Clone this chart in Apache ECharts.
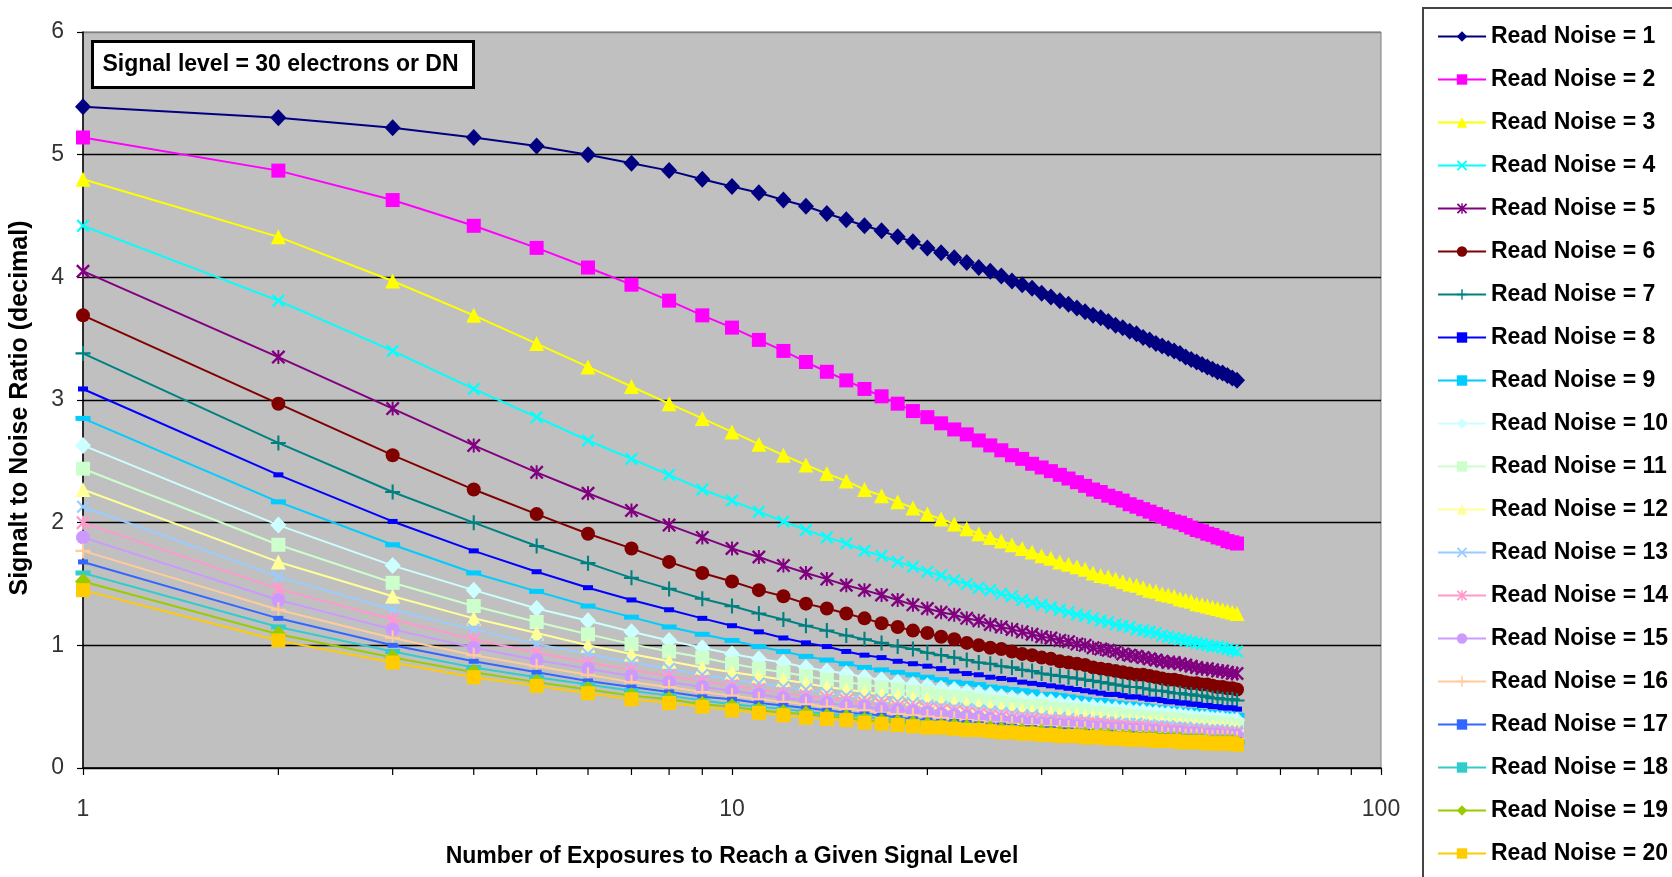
<!DOCTYPE html>
<html>
<head>
<meta charset="utf-8">
<title>Signal to Noise Ratio vs Number of Exposures</title>
<script src="https://cdn.jsdelivr.net/npm/echarts@6.0.0/dist/echarts.min.js"></script>
<style>
  html, body { margin: 0; padding: 0; background: #ffffff; }
  #chart { width: 1672px; height: 877px; }
</style>
</head>
<body>
<div id="chart"></div>
<script>
// Number of exposures the 30-electron signal is split across
const exposures = [1,2,3,4,5,6,7,8,9,10,11,12,13,14,15,16,17,18,19,20,
  21,22,23,24,25,26,27,28,29,30,31,32,33,34,35,36,37,38,39,40,
  41,42,43,44,45,46,47,48,49,50,51,52,53,54,55,56,57,58,59,60];

const readNoise = [1,2,3,4,5,6,7,8,9,10,11,12,13,14,15,16,17,18,19,20];

// Signal to noise ratio for each read-noise level, one value per exposure count
const snrRN1 = [5.39,5.30,5.22,5.14,5.07,5.00,4.93,4.87,4.80,4.74,4.69,4.63,4.58,4.52,4.47,4.42,4.38,4.33,4.29,4.24,
  4.20,4.16,4.12,4.08,4.05,4.01,3.97,3.94,3.91,3.87,3.84,3.81,3.78,3.75,3.72,3.69,3.67,3.64,3.61,3.59,
  3.56,3.54,3.51,3.49,3.46,3.44,3.42,3.40,3.38,3.35,3.33,3.31,3.29,3.27,3.25,3.23,3.22,3.20,3.18,3.16];
const snrRN2 = [5.14,4.87,4.63,4.42,4.24,4.08,3.94,3.81,3.69,3.59,3.49,3.40,3.31,3.23,3.16,3.09,3.03,2.97,2.91,2.86,
  2.81,2.76,2.72,2.67,2.63,2.59,2.55,2.52,2.48,2.45,2.42,2.39,2.36,2.33,2.30,2.27,2.25,2.22,2.20,2.18,
  2.15,2.13,2.11,2.09,2.07,2.05,2.03,2.01,2.00,1.98,1.96,1.94,1.93,1.91,1.90,1.88,1.87,1.85,1.84,1.83];
const snrRN3 = [4.80,4.33,3.97,3.69,3.46,3.27,3.11,2.97,2.85,2.74,2.64,2.55,2.47,2.40,2.34,2.27,2.22,2.17,2.12,2.07,
  2.03,1.99,1.95,1.91,1.88,1.85,1.82,1.79,1.76,1.73,1.71,1.68,1.66,1.64,1.62,1.59,1.57,1.56,1.54,1.52,
  1.50,1.49,1.47,1.45,1.44,1.42,1.41,1.40,1.38,1.37,1.36,1.34,1.33,1.32,1.31,1.30,1.29,1.28,1.27,1.26];
const snrRN4 = [4.42,3.81,3.40,3.09,2.86,2.67,2.52,2.39,2.27,2.18,2.09,2.01,1.94,1.88,1.83,1.77,1.73,1.68,1.64,1.60,
  1.57,1.53,1.50,1.47,1.45,1.42,1.40,1.37,1.35,1.33,1.31,1.29,1.27,1.25,1.24,1.22,1.20,1.19,1.17,1.16,
  1.15,1.13,1.12,1.11,1.10,1.08,1.07,1.06,1.05,1.04,1.03,1.02,1.01,1.00,0.99,0.99,0.98,0.97,0.96,0.95];
const snrRN5 = [4.05,3.35,2.93,2.63,2.41,2.24,2.10,1.98,1.88,1.79,1.72,1.65,1.59,1.54,1.49,1.45,1.41,1.37,1.33,1.30,
  1.27,1.25,1.22,1.20,1.17,1.15,1.13,1.11,1.09,1.07,1.06,1.04,1.03,1.01,1.00,0.98,0.97,0.96,0.95,0.93,
  0.92,0.91,0.90,0.89,0.88,0.87,0.86,0.86,0.85,0.84,0.83,0.82,0.81,0.81,0.80,0.79,0.79,0.78,0.77,0.77];
const snrRN6 = [3.69,2.97,2.55,2.27,2.07,1.91,1.79,1.68,1.59,1.52,1.45,1.40,1.34,1.30,1.26,1.22,1.18,1.15,1.12,1.10,
  1.07,1.05,1.02,1.00,0.98,0.97,0.95,0.93,0.92,0.90,0.89,0.87,0.86,0.85,0.84,0.82,0.81,0.80,0.79,0.78,
  0.77,0.76,0.76,0.75,0.74,0.73,0.72,0.72,0.71,0.70,0.69,0.69,0.68,0.68,0.67,0.66,0.66,0.65,0.65,0.64];
const snrRN7 = [3.38,2.65,2.25,2.00,1.81,1.67,1.55,1.46,1.38,1.32,1.26,1.21,1.16,1.12,1.08,1.05,1.02,0.99,0.97,0.94,
  0.92,0.90,0.88,0.86,0.85,0.83,0.82,0.80,0.79,0.77,0.76,0.75,0.74,0.73,0.72,0.71,0.70,0.69,0.68,0.67,
  0.66,0.66,0.65,0.64,0.63,0.63,0.62,0.61,0.61,0.60,0.60,0.59,0.59,0.58,0.57,0.57,0.56,0.56,0.56,0.55];
const snrRN8 = [3.09,2.39,2.01,1.77,1.60,1.47,1.37,1.29,1.22,1.16,1.11,1.06,1.02,0.99,0.95,0.92,0.90,0.87,0.85,0.83,
  0.81,0.79,0.77,0.76,0.74,0.73,0.72,0.70,0.69,0.68,0.67,0.66,0.65,0.64,0.63,0.62,0.61,0.60,0.60,0.59,
  0.58,0.58,0.57,0.56,0.56,0.55,0.54,0.54,0.53,0.53,0.52,0.52,0.51,0.51,0.50,0.50,0.49,0.49,0.49,0.48];
const snrRN9 = [2.85,2.17,1.82,1.59,1.44,1.32,1.23,1.15,1.09,1.04,0.99,0.95,0.91,0.88,0.85,0.82,0.80,0.78,0.76,0.74,
  0.72,0.70,0.69,0.68,0.66,0.65,0.64,0.63,0.62,0.60,0.60,0.59,0.58,0.57,0.56,0.55,0.55,0.54,0.53,0.52,
  0.52,0.51,0.51,0.50,0.49,0.49,0.48,0.48,0.47,0.47,0.47,0.46,0.46,0.45,0.45,0.44,0.44,0.44,0.43,0.43];
const snrRN10 = [2.63,1.98,1.65,1.45,1.30,1.20,1.11,1.04,0.98,0.93,0.89,0.86,0.82,0.79,0.77,0.74,0.72,0.70,0.68,0.67,
  0.65,0.64,0.62,0.61,0.60,0.58,0.57,0.56,0.55,0.55,0.54,0.53,0.52,0.51,0.50,0.50,0.49,0.48,0.48,0.47,
  0.47,0.46,0.46,0.45,0.45,0.44,0.44,0.43,0.43,0.42,0.42,0.41,0.41,0.41,0.40,0.40,0.40,0.39,0.39,0.39];
const snrRN11 = [2.44,1.82,1.51,1.32,1.19,1.09,1.01,0.95,0.90,0.85,0.81,0.78,0.75,0.72,0.70,0.68,0.66,0.64,0.62,0.61,
  0.59,0.58,0.57,0.55,0.54,0.53,0.52,0.51,0.50,0.50,0.49,0.48,0.47,0.47,0.46,0.45,0.45,0.44,0.44,0.43,
  0.42,0.42,0.41,0.41,0.41,0.40,0.40,0.39,0.39,0.38,0.38,0.38,0.37,0.37,0.37,0.36,0.36,0.36,0.35,0.35];
const snrRN12 = [2.27,1.68,1.40,1.22,1.10,1.00,0.93,0.87,0.82,0.78,0.75,0.72,0.69,0.66,0.64,0.62,0.60,0.59,0.57,0.56,
  0.54,0.53,0.52,0.51,0.50,0.49,0.48,0.47,0.46,0.45,0.45,0.44,0.43,0.43,0.42,0.42,0.41,0.40,0.40,0.39,
  0.39,0.38,0.38,0.38,0.37,0.37,0.36,0.36,0.36,0.35,0.35,0.35,0.34,0.34,0.34,0.33,0.33,0.33,0.32,0.32];
const snrRN13 = [2.13,1.56,1.29,1.13,1.01,0.93,0.86,0.81,0.76,0.72,0.69,0.66,0.64,0.61,0.59,0.57,0.56,0.54,0.53,0.51,
  0.50,0.49,0.48,0.47,0.46,0.45,0.44,0.43,0.43,0.42,0.41,0.41,0.40,0.39,0.39,0.38,0.38,0.37,0.37,0.36,
  0.36,0.36,0.35,0.35,0.34,0.34,0.34,0.33,0.33,0.33,0.32,0.32,0.32,0.31,0.31,0.31,0.31,0.30,0.30,0.30];
const snrRN14 = [2.00,1.46,1.21,1.05,0.94,0.86,0.80,0.75,0.71,0.67,0.64,0.61,0.59,0.57,0.55,0.53,0.52,0.50,0.49,0.48,
  0.47,0.46,0.45,0.44,0.43,0.42,0.41,0.40,0.40,0.39,0.38,0.38,0.37,0.37,0.36,0.36,0.35,0.35,0.34,0.34,
  0.33,0.33,0.33,0.32,0.32,0.32,0.31,0.31,0.31,0.30,0.30,0.30,0.29,0.29,0.29,0.29,0.28,0.28,0.28,0.28];
const snrRN15 = [1.88,1.37,1.13,0.98,0.88,0.81,0.75,0.70,0.66,0.63,0.60,0.57,0.55,0.53,0.51,0.50,0.48,0.47,0.46,0.45,
  0.44,0.43,0.42,0.41,0.40,0.39,0.38,0.38,0.37,0.36,0.36,0.35,0.35,0.34,0.34,0.33,0.33,0.32,0.32,0.32,
  0.31,0.31,0.30,0.30,0.30,0.29,0.29,0.29,0.29,0.28,0.28,0.28,0.27,0.27,0.27,0.27,0.26,0.26,0.26,0.26];
const snrRN16 = [1.77,1.29,1.06,0.92,0.83,0.76,0.70,0.66,0.62,0.59,0.56,0.54,0.52,0.50,0.48,0.47,0.45,0.44,0.43,0.42,
  0.41,0.40,0.39,0.38,0.37,0.37,0.36,0.35,0.35,0.34,0.34,0.33,0.33,0.32,0.32,0.31,0.31,0.30,0.30,0.30,
  0.29,0.29,0.29,0.28,0.28,0.28,0.27,0.27,0.27,0.26,0.26,0.26,0.26,0.25,0.25,0.25,0.25,0.25,0.24,0.24];
const snrRN17 = [1.68,1.22,1.00,0.87,0.78,0.71,0.66,0.62,0.58,0.56,0.53,0.51,0.49,0.47,0.45,0.44,0.43,0.41,0.40,0.39,
  0.38,0.38,0.37,0.36,0.35,0.35,0.34,0.33,0.33,0.32,0.32,0.31,0.31,0.30,0.30,0.29,0.29,0.29,0.28,0.28,
  0.28,0.27,0.27,0.27,0.26,0.26,0.26,0.25,0.25,0.25,0.25,0.24,0.24,0.24,0.24,0.24,0.23,0.23,0.23,0.23];
const snrRN18 = [1.59,1.15,0.95,0.82,0.74,0.68,0.63,0.59,0.55,0.52,0.50,0.48,0.46,0.44,0.43,0.42,0.40,0.39,0.38,0.37,
  0.36,0.35,0.35,0.34,0.33,0.33,0.32,0.31,0.31,0.30,0.30,0.29,0.29,0.29,0.28,0.28,0.27,0.27,0.27,0.26,
  0.26,0.26,0.25,0.25,0.25,0.25,0.24,0.24,0.24,0.24,0.23,0.23,0.23,0.23,0.22,0.22,0.22,0.22,0.22,0.21];
const snrRN19 = [1.52,1.09,0.90,0.78,0.70,0.64,0.59,0.56,0.52,0.50,0.47,0.45,0.44,0.42,0.41,0.39,0.38,0.37,0.36,0.35,
  0.34,0.34,0.33,0.32,0.32,0.31,0.30,0.30,0.29,0.29,0.28,0.28,0.27,0.27,0.27,0.26,0.26,0.26,0.25,0.25,
  0.25,0.24,0.24,0.24,0.24,0.23,0.23,0.23,0.23,0.22,0.22,0.22,0.22,0.21,0.21,0.21,0.21,0.21,0.21,0.20];
const snrRN20 = [1.45,1.04,0.86,0.74,0.67,0.61,0.56,0.53,0.50,0.47,0.45,0.43,0.41,0.40,0.39,0.37,0.36,0.35,0.34,0.33,
  0.33,0.32,0.31,0.31,0.30,0.29,0.29,0.28,0.28,0.27,0.27,0.26,0.26,0.26,0.25,0.25,0.25,0.24,0.24,0.24,
  0.23,0.23,0.23,0.23,0.22,0.22,0.22,0.22,0.21,0.21,0.21,0.21,0.21,0.20,0.20,0.20,0.20,0.20,0.20,0.19];

const snrSeries = [snrRN1, snrRN2, snrRN3, snrRN4, snrRN5, snrRN6, snrRN7, snrRN8, snrRN9, snrRN10,
  snrRN11, snrRN12, snrRN13, snrRN14, snrRN15, snrRN16, snrRN17, snrRN18, snrRN19, snrRN20];

// Axis tick values
const yTicks = [0, 1, 2, 3, 4, 5, 6];
const xMinorTicks = [2, 3, 4, 5, 6, 7, 8, 9, 20, 30, 40, 50, 60, 70, 80, 90];

const annotation = 'Signal level = 30 electrons or DN';

// Classic spreadsheet palette and marker shapes
const palette = ['#000080', '#FF00FF', '#FFFF00', '#00FFFF', '#800080', '#800000', '#008080', '#0000FF',
  '#00CCFF', '#CCFFFF', '#CCFFCC', '#FFFF99', '#99CCFF', '#FF99CC', '#CC99FF', '#FFCC99',
  '#3366FF', '#33CCCC', '#99CC00', '#FFCC00'];

const X_PATH = 'path://M0,1.2L1.2,0L5,3.8L8.8,0L10,1.2L6.2,5L10,8.8L8.8,10L5,6.2L1.2,10L0,8.8L3.8,5Z';
const STAR_PATH = 'path://M0,1.2L1.2,0L5,3.8L8.8,0L10,1.2L6.2,5L10,8.8L8.8,10L5,6.2L1.2,10L0,8.8L3.8,5ZM4.3,0H5.7V10H4.3Z';
const PLUS_PATH = 'path://M4.3,0H5.7V4.3H10V5.7H5.7V10H4.3V5.7H0V4.3H4.3Z';

const markers = [
  { symbol: 'diamond', size: [16, 17] },
  { symbol: 'rect', size: 14 },
  { symbol: 'triangle', size: 15 },
  { symbol: X_PATH, size: 13 },
  { symbol: STAR_PATH, size: 14 },
  { symbol: 'circle', size: 14 },
  { symbol: PLUS_PATH, size: 15 },
  { symbol: 'rect', size: [10, 5] },
  { symbol: 'rect', size: [15, 5] }
];
const markerFor = i => markers[i % 9];

const FONT = '"Liberation Sans", Arial, sans-serif';

const lineSeries = readNoise.map((rn, i) => {
  const m = markerFor(i);
  return {
    name: 'Read Noise = ' + rn,
    type: 'line',
    data: exposures.map((n, k) => [n, snrSeries[i][k]]),
    symbol: m.symbol,
    symbolSize: m.size,
    showSymbol: true,
    showAllSymbol: true,
    lineStyle: { color: palette[i], width: 2 },
    itemStyle: { color: palette[i], borderWidth: 0 },
    emphasis: { disabled: true },
    z: 3
  };
});

// Minor ticks of the logarithmic axis (2..9, 20..90)
const minorTickSeries = {
  type: 'custom',
  data: xMinorTicks.map(v => [v, 0]),
  clip: false,
  silent: true,
  z: 6,
  renderItem: (params, api) => {
    const p = api.coord([api.value(0), 0]);
    return {
      type: 'line',
      shape: { x1: p[0], y1: p[1], x2: p[0], y2: p[1] + 7 },
      style: { stroke: '#000', lineWidth: 1.2 }
    };
  }
};

const chart = echarts.init(document.getElementById('chart'), null, { renderer: 'canvas' });

chart.setOption({
  animation: false,
  backgroundColor: '#ffffff',
  textStyle: { fontFamily: FONT },
  grid: {
    left: 80, top: 32, right: 291, bottom: 109,
    show: true, backgroundColor: '#C0C0C0', borderColor: '#808080', borderWidth: 1
  },
  xAxis: {
    type: 'log',
    logBase: 10,
    min: 1,
    max: 100,
    name: 'Number of Exposures to Reach a Given Signal Level',
    nameLocation: 'middle',
    nameGap: 77,
    nameTextStyle: { fontFamily: FONT, fontWeight: 'bold', fontSize: 23, color: '#000' },
    axisLine: { show: true, lineStyle: { color: '#000', width: 1.5 } },
    axisTick: { show: true, inside: false, length: 7, lineStyle: { color: '#000', width: 1.2 } },
    axisLabel: { fontFamily: FONT, fontSize: 23, color: '#333', margin: 30 },
    splitLine: { show: false }
  },
  yAxis: {
    type: 'value',
    min: yTicks[0],
    max: yTicks[yTicks.length - 1],
    interval: 1,
    name: 'Signalt to Noise Ratio (decimal)',
    nameLocation: 'middle',
    nameGap: 50,
    nameTextStyle: { fontFamily: FONT, fontWeight: 'bold', fontSize: 25, color: '#000', padding: [0, 16, 0, 0] },
    axisLine: { show: true, lineStyle: { color: '#000', width: 1.5 } },
    axisTick: { show: true, inside: false, length: 6, lineStyle: { color: '#000', width: 1.2 } },
    axisLabel: { fontFamily: FONT, fontSize: 23, color: '#333', margin: 19 },
    splitLine: {
      show: true,
      lineStyle: { color: ['#000', '#000', '#000', '#000', '#000', '#000', '#808080'], width: 1.3 }
    }
  },
  legend: {
    orient: 'vertical',
    left: 1432,
    top: 20,
    itemWidth: 48,
    itemHeight: 13,
    itemGap: 20,
    data: lineSeries.map(s => s.name),
    textStyle: { fontFamily: FONT, fontWeight: 'bold', fontSize: 23, lineHeight: 23, color: '#000' },
    selectedMode: false
  },
  graphic: [
    {
      // Legend frame, running past the right and bottom edges
      type: 'rect',
      shape: { x: 1423, y: 8, width: 400, height: 1000 },
      style: { fill: '#fff', stroke: '#444', lineWidth: 2 },
      z: -10,
      silent: true
    },
    {
      type: 'group',
      left: 91,
      top: 40,
      z: 100,
      children: [
        {
          type: 'rect',
          shape: { x: 0, y: 0, width: 381, height: 46 },
          style: { fill: '#fff', stroke: '#000', lineWidth: 3 }
        },
        {
          type: 'text',
          x: 10,
          y: 23,
          style: {
            text: annotation,
            font: 'bold 23px ' + FONT,
            fill: '#000',
            verticalAlign: 'middle'
          }
        }
      ]
    }
  ],
  series: lineSeries.concat([minorTickSeries])
});
</script>
</body>
</html>
